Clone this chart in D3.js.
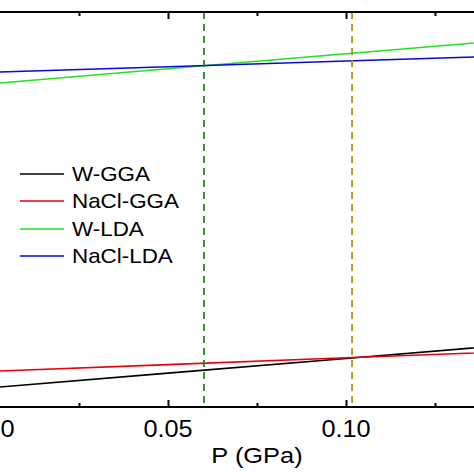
<!DOCTYPE html>
<html><head><meta charset="utf-8">
<script src="https://cdn.jsdelivr.net/npm/d3@7"></script>
<style>body{margin:0;background:#fff}svg{display:block}text{font-family:"Liberation Sans",Arial,sans-serif;fill:#000}</style>
</head><body>
<script>
const pressure = [0, 0.05, 0.10, 0.15];
const seriesNames = ["W-GGA", "NaCl-GGA", "W-LDA", "NaCl-LDA"];
const seriesColors = ["#000000", "#e8000b", "#22e022", "#0a0ad8"];
const wGGA = [4.87, 8.58, 12.29, 16.00];
const naclGGA = [9.02, 10.74, 12.45, 14.16];
const wLDA = [81.81, 85.62, 89.43, 93.24];
const naclLDA = [84.73, 86.15, 87.58, 89.01];
const markerP = [0.0601, 0.1017];
const markerColors = ["#1e8a1e", "#a09a18"];
const majorTicks = [0, 0.05, 0.10];
const minorTicks = [0.025, 0.075, 0.125];
const tickLabels = ["0.00", "0.05", "0.10"];
const xTitle = "P (GPa)";

const W = 474, H = 474;
const svg = d3.select("body").append("svg").attr("width", W).attr("height", H);
const x = d3.scaleLinear().domain([0, 0.15]).range([-10, 524]);
const y = d3.scaleLinear().domain([0, 100]).range([407, 12]);
const allSeries = [wGGA, naclGGA, wLDA, naclLDA];

// data lines
const line = d3.line().x((d, i) => x(pressure[i])).y(d => y(d));
allSeries.forEach((s, k) => {
  svg.append("path").datum(s).attr("d", line).attr("fill", "none")
    .attr("stroke", seriesColors[k]).attr("stroke-width", 1.6);
});

// dashed markers
markerP.forEach((p, k) => {
  svg.append("line").attr("x1", x(p)).attr("x2", x(p)).attr("y1", y(100)).attr("y2", y(0))
    .attr("stroke", markerColors[k]).attr("stroke-width", 1.8).attr("stroke-dasharray", "7,5");
});

// axes (ticks inward)
const axB = d3.axisBottom(x).tickValues(majorTicks).tickSize(-7).tickFormat("");
const axT = d3.axisTop(x).tickValues(majorTicks).tickSize(-7).tickFormat("");
const axBm = d3.axisBottom(x).tickValues(minorTicks).tickSize(-4).tickFormat("");
const axTm = d3.axisTop(x).tickValues(minorTicks).tickSize(-4).tickFormat("");
[[axB, 407], [axBm, 407], [axT, 12], [axTm, 12]].forEach(([a, yy]) => {
  const g = svg.append("g").attr("transform", `translate(0,${yy})`).call(a);
  g.select(".domain").remove();
  g.selectAll(".tick line").attr("stroke", "#000").attr("stroke-width", 2);
});
[407, 12].forEach(yy => svg.append("line").attr("x1", 0).attr("x2", W).attr("y1", yy).attr("y2", yy)
  .attr("stroke", "#000").attr("stroke-width", 2));

// tick labels
majorTicks.forEach((t, i) => {
  svg.append("text").attr("transform", `translate(${x(t)},437) scale(1.1,1)`)
    .attr("text-anchor", "middle").attr("font-size", 23).text(tickLabels[i]);
});
svg.append("text").attr("transform", `translate(257,463) scale(1.13,1)`)
  .attr("text-anchor", "middle").attr("font-size", 22.5).text(xTitle);

// legend
const legY = [174, 201, 229, 256];
seriesNames.forEach((n, k) => {
  svg.append("line").attr("x1", 20).attr("x2", 64).attr("y1", legY[k]).attr("y2", legY[k])
    .attr("stroke", seriesColors[k]).attr("stroke-width", 1.6);
  svg.append("text").attr("transform", `translate(72,${legY[k] + 7}) scale(1.12,1)`)
    .attr("font-size", 20).text(n);
});
</script>
</body></html>
